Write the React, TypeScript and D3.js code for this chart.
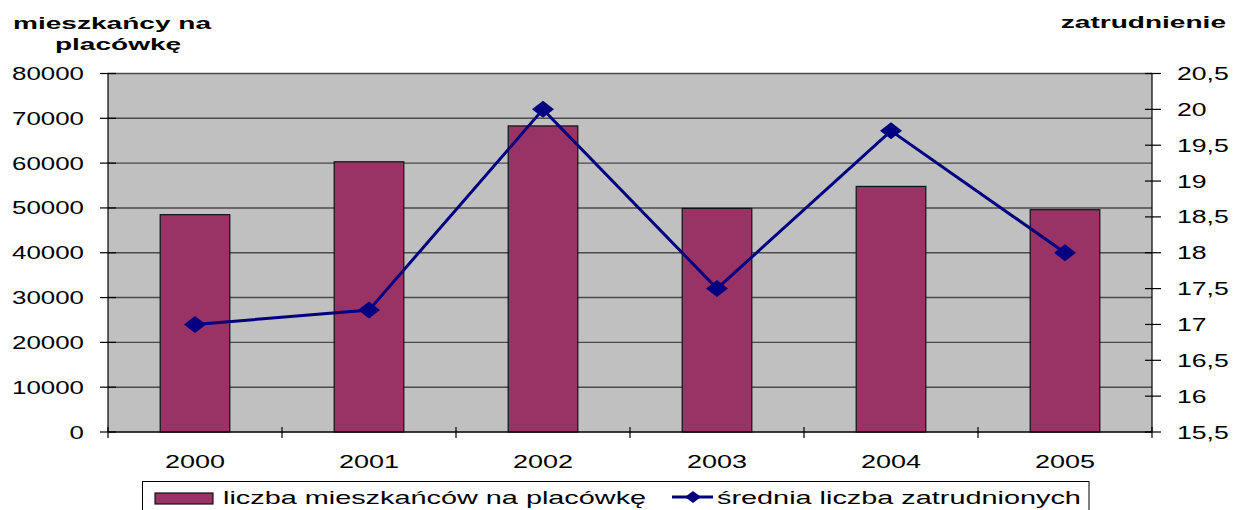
import React from 'react';
import * as d3 from 'd3';

// lata, liczba mieszkancow na placowke (slupki), srednie zatrudnienie (linia)
const years = ['2000', '2001', '2002', '2003', '2004', '2005'];
const residents = [48500, 60300, 68300, 49900, 54800, 49600];
const employment = [17.0, 17.2, 20.0, 17.5, 19.7, 18.0];
const leftTicks = [0, 10000, 20000, 30000, 40000, 50000, 60000, 70000, 80000];
const rightTicks = [15.5, 16, 16.5, 17, 17.5, 18, 18.5, 19, 19.5, 20, 20.5];

const W = 1234;
const H = 510;
const font = '"Liberation Sans", Arial, sans-serif';

// text in the picture is stretched horizontally, so scale it
function T(props: any) {
  const { x, y, sx = 1.4, size = 18.5, anchor = 'start', bold = false, children } = props;
  return (
    <text
      transform={`translate(${x},${y}) scale(${sx},1)`}
      textAnchor={anchor}
      fontFamily={font}
      fontSize={size}
      fontWeight={bold ? 'bold' : 'normal'}
      fill="#000"
    >
      {children}
    </text>
  );
}

export default function App() {
  const left = 108, right = 1152, top = 73.5, bottom = 432;

  const x = d3.scaleBand().domain(years).range([left, right]).padding(0);
  const yL = d3.scaleLinear().domain([0, 80000]).range([bottom, top]);
  const yR = d3.scaleLinear().domain([15.5, 20.5]).range([bottom, top]);
  const barW = x.bandwidth() * 0.4;

  const line = d3.line<number>()
    .x((d, i) => x(years[i])! + x.bandwidth() / 2)
    .y((d) => yR(d));

  const fmtR = (v: number) => String(v).replace('.', ',');

  const diamond = (cx: number, cy: number, rx = 11, ry = 8.5) =>
    `M${cx - rx},${cy} L${cx},${cy - ry} L${cx + rx},${cy} L${cx},${cy + ry} Z`;

  return (
    <svg width={W} height={H} style={{ position: 'absolute', left: 0, top: 0, background: '#fff' }}>
      {/* plot area */}
      <rect x={left} y={top} width={right - left} height={bottom - top} fill="#c0c0c0" />
      {leftTicks.map((t) => (
        <line key={'g' + t} x1={left} x2={right} y1={yL(t)} y2={yL(t)} stroke="#4a4a4a" strokeWidth={1.4} />
      ))}

      {/* bars */}
      {residents.map((v, i) => (
        <rect
          key={'b' + i}
          x={x(years[i])! + (x.bandwidth() - barW) / 2}
          y={yL(v)}
          width={barW}
          height={bottom - yL(v)}
          fill="#993366"
          stroke="#111"
          strokeWidth={1.2}
        />
      ))}

      {/* axes */}
      <line x1={left} x2={left} y1={top} y2={bottom} stroke="#000" strokeWidth={1.2} />
      <line x1={right} x2={right} y1={top} y2={bottom} stroke="#000" strokeWidth={1.2} />
      <line x1={left} x2={right} y1={bottom} y2={bottom} stroke="#000" strokeWidth={1.2} />
      {leftTicks.map((t) => (
        <g key={'l' + t}>
          <line x1={100} x2={116} y1={yL(t)} y2={yL(t)} stroke="#000" strokeWidth={1.2} />
          <T x={84} y={yL(t) + 6.5} anchor="end">{String(t)}</T>
        </g>
      ))}
      {rightTicks.map((t) => (
        <g key={'r' + t}>
          <line x1={right - 7} x2={right + 9} y1={yR(t)} y2={yR(t)} stroke="#000" strokeWidth={1.2} />
          <T x={1177} y={yR(t) + 6.5} sx={1.44}>{fmtR(t)}</T>
        </g>
      ))}
      {years.map((yr, i) => (
        <g key={'c' + yr}>
          <line x1={x(yr)!} x2={x(yr)!} y1={bottom - 5} y2={bottom + 6} stroke="#000" strokeWidth={1.2} />
          <T x={x(yr)! + x.bandwidth() / 2} y={468} anchor="middle" size={19} sx={1.42}>{yr}</T>
        </g>
      ))}
      <line x1={right} x2={right} y1={bottom - 5} y2={bottom + 6} stroke="#000" strokeWidth={1.2} />

      {/* line series */}
      <path d={line(employment) || ''} fill="none" stroke="#000080" strokeWidth={3} />
      {employment.map((v, i) => (
        <path key={'m' + i} d={diamond(x(years[i])! + x.bandwidth() / 2, yR(v))} fill="#000080" />
      ))}

      {/* axis titles */}
      <T x={112} y={29} anchor="middle" size={17} sx={1.65} bold>mieszkańcy na</T>
      <T x={118} y={50} anchor="middle" size={17} sx={1.65} bold>placówkę</T>
      <T x={1226} y={28} anchor="end" size={17} sx={1.65} bold>zatrudnienie</T>

      {/* legend */}
      <rect x={142.5} y={481.5} width={946.5} height={40} fill="#fff" stroke="#000" strokeWidth={1} />
      <rect x={155} y={493} width={58} height={11} fill="#993366" stroke="#111" strokeWidth={1.2} />
      <T x={223} y={504} size={18.5} sx={1.56}>liczba mieszkańców na placówkę</T>
      <line x1={672} x2={713} y1={497} y2={497} stroke="#000080" strokeWidth={3} />
      <path d={diamond(693, 497, 8, 6)} fill="#000080" />
      <T x={717} y={504} size={18.5} sx={1.56}>średnia liczba zatrudnionych</T>
    </svg>
  );
}
